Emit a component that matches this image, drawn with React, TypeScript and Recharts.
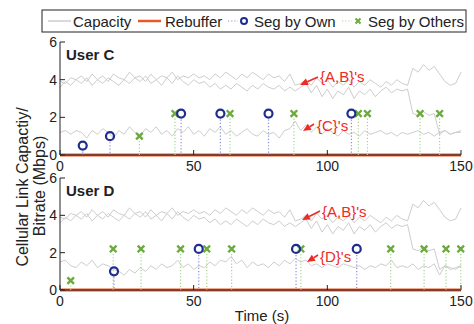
import React from "react";
import { ComposedChart, Line, Scatter, XAxis, YAxis } from "recharts";

// ---------- data ----------
const STEP = 2; // seconds between capacity samples
const capA = [3.9,3.8,4.1,4.0,4.2,3.9,4.3,4.0,4.2,3.9,4.3,4.1,4.0,4.4,4.1,4.2,3.9,4.3,4.0,4.2,4.1,4.4,4.0,4.2,4.1,4.3,4.1,4.2,4.0,4.3,4.1,4.4,4.2,4.0,4.3,4.1,4.4,4.2,4.0,4.3,4.1,4.2,3.9,4.3,3.7,3.8,4.0,3.7,4.1,3.8,4.0,3.6,3.9,3.7,4.0,3.6,3.9,3.7,4.0,3.8,3.6,3.9,3.7,4.0,3.8,3.7,4.6,4.4,4.8,4.5,4.7,4.3,3.9,3.7,3.8,4.4];
const capB = [3.6,3.9,3.7,4.0,3.8,4.1,3.7,4.0,3.8,4.1,3.9,3.7,4.0,3.8,4.1,3.9,4.2,3.8,4.0,3.7,4.1,3.8,4.2,3.9,3.7,4.0,3.8,3.9,3.6,3.8,3.5,3.7,3.5,3.8,3.6,3.4,3.7,3.5,3.8,3.6,3.5,3.7,3.4,3.6,3.4,3.6,3.8,3.3,3.7,3.1,3.5,3.0,3.4,3.2,3.6,3.0,3.4,3.2,3.5,3.1,3.4,3.6,3.3,3.5,3.4,3.5,2.2,2.1,2.3,2.1,2.2,1.1,1.3,1.1,1.2,1.3];
const capC = [1.2,1.3,1.1,1.3,1.2,0.9,1.3,1.1,1.4,1.2,0.9,1.3,1.1,1.5,1.2,1.0,1.4,1.2,1.5,1.1,1.3,1.0,1.4,1.2,1.5,1.1,1.3,1.0,1.4,1.2,1.5,1.1,1.3,1.0,1.2,1.4,1.1,1.0,1.3,1.1,1.2,0.9,1.3,1.4,1.8,1.3,1.6,1.2,1.5,1.1,1.4,1.2,1.0,1.3,1.1,1.2,1.0,1.3,1.1,1.2,1.3,1.1,1.2,1.0,1.2,1.1,1.2,1.3,1.1,1.2,1.0,1.2,1.3,1.1,1.2,1.2];
const capD = [1.5,1.6,1.3,1.2,1.5,1.3,1.6,1.2,1.4,1.3,1.1,1.0,0.8,1.1,0.9,1.2,1.0,1.3,1.1,1.4,1.2,1.3,1.6,1.2,1.4,1.1,1.3,1.2,1.5,1.3,1.6,1.5,1.8,1.4,1.6,1.2,1.5,1.3,1.4,1.2,1.5,1.3,1.6,1.4,1.7,1.5,1.6,1.3,1.4,1.2,1.4,1.3,1.2,1.4,1.3,1.2,1.3,1.1,1.3,1.2,1.4,1.3,1.6,1.2,1.3,1.2,1.4,1.1,1.3,1.2,1.4,0.8,1.3,1.2,1.1,1.3];

const rebufferT = [0, 150];
const rebufferV = [0, 0];

const ownC_t = [8.5, 18.7, 45.3, 60, 78, 109];
const ownC_v = [0.5, 1.0, 2.2, 2.2, 2.2, 2.2];
const othC_t = [29.7, 43, 63.6, 87.5, 111.6, 115, 134.7, 142];
const othC_v = [1.0, 2.2, 2.2, 2.2, 2.2, 2.2, 2.2, 2.2];

const ownD_t = [20.2, 51.9, 88.3, 111];
const ownD_v = [1.0, 2.2, 2.2, 2.2];
const othD_t = [4, 19.9, 30.3, 45.1, 54.9, 64.2, 90.1, 123.7, 136.2, 144.4, 149.9];
const othD_v = [0.5, 2.2, 2.2, 2.2, 2.2, 2.2, 2.2, 2.2, 2.2, 2.2, 2.2];

const xTicks = [0, 50, 100, 150];
const yTicks = [0, 2, 4, 6];

// ---------- styles ----------
const FONT = "'Liberation Sans', Arial, Helvetica, sans-serif";
const GRAY = "#cdcdcd";
const ORANGE = "#e5592b";
const NAVY = "#1f2d8c";
const NAVY_STEM = "#8a90d2";
const GREEN = "#6aab3c";
const GREEN_STEM = "#a5d38a";
const RED = "#ee2a24";
const AX = "#222";

const capRowsTop = capA.map((a, i) => ({ t: i * STEP, a, b: capB[i], c: capC[i] }));
const capRowsBot = capA.map((a, i) => ({ t: i * STEP, a, b: capB[i], c: capD[i] }));
const rebRows = rebufferT.map((t, i) => ({ t, v: rebufferV[i] }));
const pts = (ts: number[], vs: number[]) => ts.map((t, i) => ({ t, v: vs[i] }));

// ---------- ticks ----------
const BottomTick = (p: any) => (
  <g>
    <line x1={p.x} x2={p.x} y1={p.y} y2={p.y - 5} stroke={AX} strokeWidth={1} />
    <text x={p.x} y={p.y + 16} textAnchor="middle" fontFamily={FONT} fontSize={14} fill={AX}>
      {p.payload.value}
    </text>
  </g>
);
const TopTick = (p: any) => (
  <line x1={p.x} x2={p.x} y1={p.y} y2={p.y + 5} stroke={AX} strokeWidth={1} />
);
const LeftTick = (p: any) => (
  <g>
    <line x1={p.x} x2={p.x + 5} y1={p.y} y2={p.y} stroke={AX} strokeWidth={1} />
    <text x={p.x - 3} y={p.y + 5} textAnchor="end" fontFamily={FONT} fontSize={14} fill={AX}>
      {p.payload.value}
    </text>
  </g>
);
const RightTick = (p: any) => (
  <line x1={p.x} x2={p.x - 5} y1={p.y} y2={p.y} stroke={AX} strokeWidth={1} />
);

// ---------- marker shapes ----------
const ownShape = (base: number) => (p: any) => {
  const { cx, cy } = p;
  if (cx == null || cy == null) return <g />;
  return (
    <g>
      <line x1={cx} x2={cx} y1={cy + 6} y2={base} stroke={NAVY_STEM} strokeWidth={1.2} strokeDasharray="1.2 2" />
      <circle cx={cx} cy={cy} r={4} fill="none" stroke={NAVY} strokeWidth={2.2} />
    </g>
  );
};
const othShape = (base: number) => (p: any) => {
  const { cx, cy } = p;
  if (cx == null || cy == null) return <g />;
  const s = 3.3;
  return (
    <g>
      <line x1={cx} x2={cx} y1={cy + 5} y2={base} stroke={GREEN_STEM} strokeWidth={1.2} strokeDasharray="1.2 2" />
      <path d={`M${cx - s},${cy - s}L${cx + s},${cy + s}M${cx - s},${cy + s}L${cx + s},${cy - s}`} stroke={GREEN} strokeWidth={2.4} fill="none" />
    </g>
  );
};

type PanelProps = {
  height: number;
  marginTop: number;
  xAxisHeight: number;
  rows: any[];
  own: { t: number; v: number }[];
  oth: { t: number; v: number }[];
  title: string;
};

const Panel = ({ height, marginTop, xAxisHeight, rows, own, oth, title }: PanelProps) => {
  const base = height - xAxisHeight;
  return (
    <ComposedChart width={474} height={height} margin={{ top: marginTop, right: 13, bottom: 0, left: 0 }}>
      <XAxis xAxisId="b" dataKey="t" type="number" domain={[0, 150]} ticks={xTicks} interval={0}
        height={xAxisHeight} tickLine={false} tickSize={0} tickMargin={0} axisLine={{ stroke: AX }} tick={<BottomTick />} />
      <XAxis xAxisId="t" orientation="top" dataKey="t" type="number" domain={[0, 150]} ticks={xTicks} interval={0}
        height={0} tickLine={false} tickSize={0} tickMargin={0} axisLine={{ stroke: AX }} tick={<TopTick />} />
      <YAxis yAxisId="l" type="number" domain={[0, 6]} ticks={yTicks} interval={0} width={60}
        tickLine={false} tickSize={0} tickMargin={0} axisLine={{ stroke: AX }} tick={<LeftTick />} />
      <YAxis yAxisId="r" orientation="right" type="number" domain={[0, 6]} ticks={yTicks} interval={0} width={0}
        tickLine={false} tickSize={0} tickMargin={0} axisLine={{ stroke: AX }} tick={<RightTick />} />
      <Line xAxisId="b" yAxisId="l" data={rows} dataKey="a" stroke={GRAY} strokeWidth={1} dot={false} isAnimationActive={false} />
      <Line xAxisId="b" yAxisId="l" data={rows} dataKey="b" stroke={GRAY} strokeWidth={1} dot={false} isAnimationActive={false} />
      <Line xAxisId="b" yAxisId="l" data={rows} dataKey="c" stroke={GRAY} strokeWidth={1} dot={false} isAnimationActive={false} />
      <Line xAxisId="b" yAxisId="l" data={rebRows} dataKey="v" stroke={ORANGE} strokeWidth={3} dot={false} isAnimationActive={false} />
      <Scatter xAxisId="b" yAxisId="l" data={oth} dataKey="v" shape={othShape(base)} isAnimationActive={false} />
      <Scatter xAxisId="b" yAxisId="l" data={own} dataKey="v" shape={ownShape(base)} isAnimationActive={false} />
      <text x={66} y={marginTop + 18} fontFamily={FONT} fontSize={15} fontWeight="bold" fill="#222">{title}</text>
    </ComposedChart>
  );
};

const Arrow = ({ x1, y1, x2, y2 }: { x1: number; y1: number; x2: number; y2: number }) => {
  const ang = Math.atan2(y2 - y1, x2 - x1);
  const L = 8, Wd = 3.5;
  const bx = x2 - L * Math.cos(ang), by = y2 - L * Math.sin(ang);
  const px = -Math.sin(ang) * Wd, py = Math.cos(ang) * Wd;
  return (
    <g>
      <line x1={x1} y1={y1} x2={bx} y2={by} stroke={RED} strokeWidth={1.6} />
      <path d={`M${x2},${y2}L${bx + px},${by + py}L${bx - px},${by - py}Z`} fill={RED} />
    </g>
  );
};

const Overlay = () => (
  <svg width={474} height={324} style={{ position: "absolute", left: 0, top: 0, pointerEvents: "none" }}>
    {/* legend */}
    <rect x={42} y={10} width={424} height={22} fill="#fff" stroke={AX} strokeWidth={1} />
    <line x1={48} x2={71} y1={21} y2={21} stroke={GRAY} strokeWidth={1.5} />
    <text x={73} y={26.5} fontFamily={FONT} fontSize={15} fill="#222">Capacity</text>
    <line x1={138} x2={161} y1={21} y2={21} stroke={ORANGE} strokeWidth={2.5} />
    <text x={165} y={26.5} fontFamily={FONT} fontSize={15} fill="#222">Rebuffer</text>
    <line x1={228} x2={238} y1={21} y2={21} stroke={NAVY_STEM} strokeWidth={1.2} strokeDasharray="1.2 2" />
    <circle cx={244} cy={21} r={3} fill="none" stroke={NAVY} strokeWidth={2} />
    <text x={254} y={26.5} fontFamily={FONT} fontSize={15} fill="#222">Seg by Own</text>
    <line x1={342} x2={352} y1={21} y2={21} stroke={GREEN_STEM} strokeWidth={1.2} strokeDasharray="1.2 2" />
    <path d="M355.5,18.5L360.5,23.5M355.5,23.5L360.5,18.5" stroke={GREEN} strokeWidth={2} />
    <text x={368} y={26.5} fontFamily={FONT} fontSize={15} fill="#222">Seg by Others</text>

    {/* y label */}
    <text transform="translate(22,187) rotate(-90)" textAnchor="middle" dominantBaseline="central"
      fontFamily={FONT} fontSize={16} fill="#222">Cellular Link Capactiy/</text>
    <text transform="translate(39,186) rotate(-90)" textAnchor="middle" dominantBaseline="central"
      fontFamily={FONT} fontSize={16} fill="#222">Bitrate (Mbps)</text>

    {/* x label */}
    <text x={262} y={321} textAnchor="middle" fontFamily={FONT} fontSize={15} fill="#222">Time (s)</text>

    {/* annotations */}
    <text x={320} y={82} fontFamily={FONT} fontSize={15} fill={RED}>{"{A,B}'s"}</text>
    <Arrow x1={318} y1={77} x2={300} y2={85} />
    <text x={317} y={131} fontFamily={FONT} fontSize={15} fill={RED}>{"{C}'s"}</text>
    <Arrow x1={314} y1={124} x2={303} y2={131} />
    <text x={322} y={217} fontFamily={FONT} fontSize={15} fill={RED}>{"{A,B}'s"}</text>
    <Arrow x1={320} y1={211} x2={302} y2={220} />
    <text x={320} y={262} fontFamily={FONT} fontSize={15} fill={RED}>{"{D}'s"}</text>
    <Arrow x1={318} y1={255} x2={307} y2={262} />
  </svg>
);

export default function App() {
  return (
    <div style={{ position: "absolute", left: 0, top: 0, width: 474, height: 324, background: "#fff" }}>
      <div style={{ position: "absolute", left: 0, top: 0 }}>
        <Panel height={175} marginTop={42} xAxisHeight={20} rows={capRowsTop}
          own={pts(ownC_t, ownC_v)} oth={pts(othC_t, othC_v)} title="User C" />
      </div>
      <div style={{ position: "absolute", left: 0, top: 160 }}>
        <Panel height={164} marginTop={18} xAxisHeight={34} rows={capRowsBot}
          own={pts(ownD_t, ownD_v)} oth={pts(othD_t, othD_v)} title="User D" />
      </div>
      <Overlay />
    </div>
  );
}
